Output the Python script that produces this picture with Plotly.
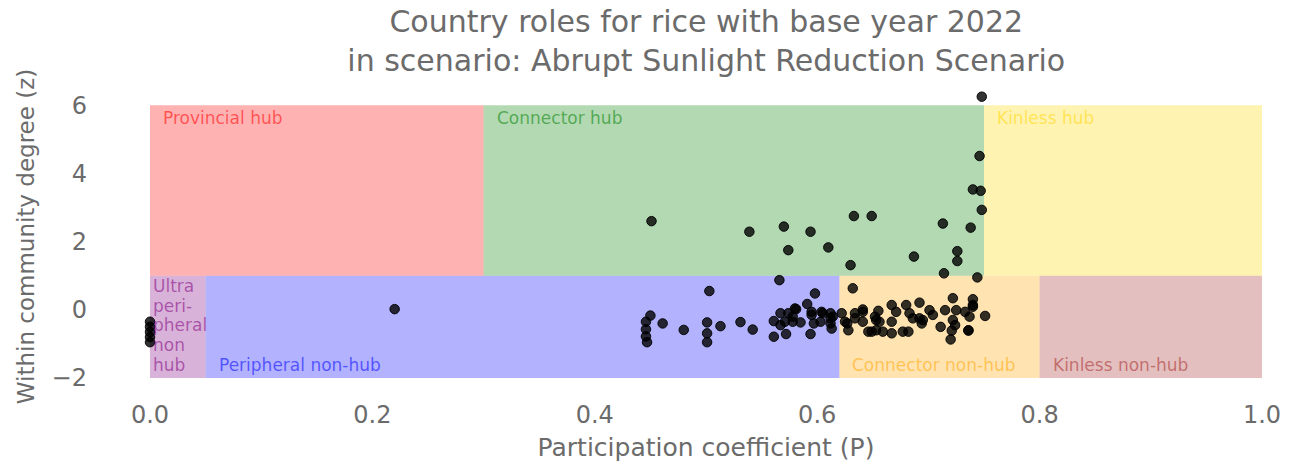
import plotly.graph_objects as go

# Participation coefficient (P) and within-community degree z-score (z) per country
P = [
    0.0, 0.0, 0.0, 0.0, 0.0,
    0.22,
    0.450, 0.446, 0.446, 0.446, 0.447,
    0.461, 0.480, 0.501, 0.501, 0.501, 0.503, 0.513, 0.531, 0.542,
    0.566, 0.598, 0.591, 0.561, 0.561, 0.572, 0.594, 0.581,
    0.567, 0.571, 0.580, 0.578, 0.585, 0.595, 0.597, 0.604, 0.612, 0.612,
    0.613, 0.622, 0.625, 0.628, 0.634, 0.641, 0.641, 0.646, 0.652, 0.653,
    0.632,
    0.744, 0.722, 0.740, 0.740, 0.667, 0.680, 0.692, 0.641, 0.655, 0.671,
    0.701, 0.715, 0.725, 0.733, 0.751, 0.686, 0.711, 0.736, 0.721, 0.720,
    0.659, 0.667, 0.677, 0.682, 0.627, 0.614, 0.695, 0.704, 0.722, 0.724,
    0.653, 0.634,
    0.740, 0.683, 0.737, 0.692, 0.694, 0.649, 0.736, 0.656, 0.667,
    0.574, 0.578, 0.567, 0.605, 0.612, 0.595, 0.603,
    0.748, 0.746, 0.740, 0.747, 0.748, 0.451, 0.539, 0.570, 0.594, 0.574,
    0.610, 0.633, 0.649, 0.630, 0.713, 0.738, 0.687, 0.726, 0.726, 0.714,
]
Z = [
    -0.35, -0.50, -0.65, -0.80, -0.95,
    0.02,
    -0.17, -0.35, -0.57, -0.78, -0.95,
    -0.40, -0.59, -0.37, -0.69, -0.95, 0.55, -0.48, -0.36, -0.58,
    0.87, 0.48, 0.17, -0.33, -0.79, -0.71, -0.71, 0.02,
    -0.10, -0.35, 0.04, -0.20, -0.37, -0.06, -0.40, -0.06, -0.10, -0.40,
    -0.55, -0.10, -0.35, -0.60, -0.10, -0.06, -0.35, -0.64, -0.20, -0.60,
    0.63,
    0.95, 0.34, 0.31, 0.14, 0.14, 0.14, 0.21, 0.01, -0.03, -0.06,
    -0.01, -0.01, -0.01, -0.06, -0.18, -0.25, -0.50, -0.61, -0.61, -0.87,
    -0.64, -0.69, -0.64, -0.64, -0.40, -0.20, -0.30, -0.15, -0.30, -0.45,
    -0.30, -0.25,
    0.09, -0.10, -0.20, -0.25, -0.40, -0.64, -0.60, -0.35, -0.35,
    -0.10, -0.35, -0.45, -0.10, -0.25, -0.15, -0.35,
    6.25, 4.51, 3.53, 3.49, 2.93, 2.60, 2.29, 2.44, 2.29, 1.75,
    1.83, 2.75, 2.75, 1.31, 2.53, 2.41, 1.56, 1.72, 1.43, 1.07,
]

# Role regions: name (lines), P range, z range, colour
role_names = [["Ultra", "peri-", "pheral", "non", "hub"], ["Peripheral non-hub"], ["Connector non-hub"],
              ["Kinless non-hub"], ["Provincial hub"], ["Connector hub"], ["Kinless hub"]]
role_p0 = [0.0, 0.05, 0.62, 0.80, 0.0, 0.30, 0.75]
role_p1 = [0.05, 0.62, 0.80, 1.0, 0.30, 0.75, 1.0]
role_z0 = [-2, -2, -2, -2, 1, 1, 1]
role_z1 = [1, 1, 1, 1, 6, 6, 6]
role_rgb = ["128,0,128", "0,0,255", "255,165,0", "165,42,42", "255,0,0", "0,128,0", "255,215,0"]

fig = go.Figure()

LINE_H = 19.8
for lines, p0, p1, z0, z1, rgb in zip(role_names, role_p0, role_p1, role_z0, role_z1, role_rgb):
    fig.add_shape(type="rect", xref="x", yref="y", x0=p0, x1=p1, y0=z0, y1=z1,
                  fillcolor=f"rgba({rgb},0.3)", line_width=0, layer="below")
    hub = z0 >= 1
    n = len(lines)
    for i, line in enumerate(lines):
        fig.add_annotation(
            x=p0, y=z1 if hub else z0, xref="x", yref="y",
            text=line, showarrow=False,
            xanchor="left", yanchor="top" if hub else "bottom", align="left",
            xshift=1 if p0 == 0 and not hub else 11,
            yshift=-1 if hub else 1 + (n - 1 - i) * LINE_H,
            font=dict(family="DejaVu Sans", size=17, color=f"rgba({rgb},0.55)"),
        )

fig.add_trace(go.Scatter(
    x=P, y=Z, mode="markers", cliponaxis=False, showlegend=False,
    marker=dict(size=9.5, color="rgba(0,0,0,0.8)", line=dict(width=1, color="rgba(0,0,0,0.9)")),
))

grey = "#6b6b6b"
fig.update_layout(
    width=1290, height=462,
    margin=dict(l=150, r=28, t=95, b=84, autoexpand=False),
    paper_bgcolor="white", plot_bgcolor="white",
    font=dict(family="DejaVu Sans", color=grey),
    title=dict(
        text="Country roles for rice with base year 2022<br>in scenario: Abrupt Sunlight Reduction Scenario",
        x=0.5475, xanchor="center", y=0.93, yanchor="top", yref="container",
        font=dict(size=30, color=grey),
    ),
)
fig.update_xaxes(
    range=[0, 1], tickvals=[0, 0.2, 0.4, 0.6, 0.8, 1.0], ticktext=["0.0", "0.2", "0.4", "0.6", "0.8", "1.0"],
    showgrid=False, zeroline=False, showline=False, ticks="", ticklabelstandoff=20, automargin=False,
    tickfont=dict(size=24, color=grey),
    title=dict(text="Participation coefficient (P)", font=dict(size=25, color=grey), standoff=12),
)
fig.update_yaxes(
    range=[-2, 6.3], tickvals=[-2, 0, 2, 4, 6], ticktext=["−2", "0", "2", "4", "6"],
    showgrid=False, zeroline=False, showline=False, ticks="", ticklabelstandoff=62, automargin=False,
    tickfont=dict(size=24, color=grey),
    title=dict(text="Within community degree (z)", font=dict(size=23, color=grey), standoff=10),
)

fig.write_html("out.html")
